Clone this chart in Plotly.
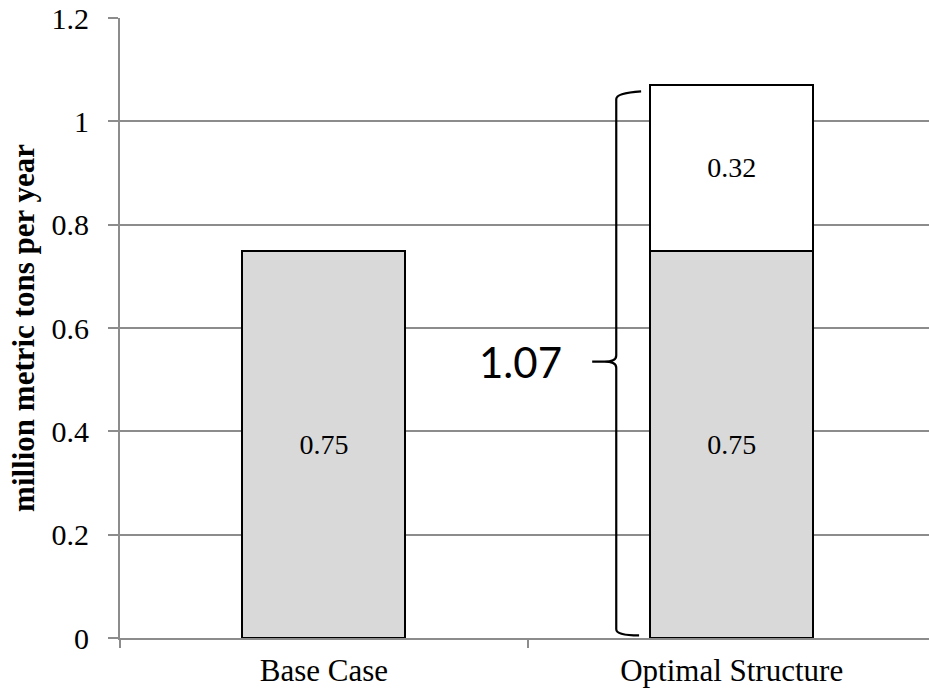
import plotly.graph_objects as go

# Annual output, million metric tons per year
categories = ["Base Case", "Optimal Structure"]
base_values = [0.75, 0.75]
added_values = [None, 0.32]
y_ticks = [0, 0.2, 0.4, 0.6, 0.8, 1.0, 1.2]

total_optimal = round(base_values[1] + added_values[1], 2)

SERIF = "Liberation Serif, Times New Roman, serif"
GRID = "#8c8c8c"

fig = go.Figure()
fig.add_trace(go.Bar(
    x=categories, y=base_values, width=0.4,
    marker=dict(color="#d9d9d9", line=dict(color="black", width=2)),
    text=[f"{v:.2f}" for v in base_values],
    textposition="inside", insidetextanchor="middle",
    textfont=dict(family=SERIF, size=28, color="black"),
    cliponaxis=False, showlegend=False,
))
fig.add_trace(go.Bar(
    x=categories, y=added_values, width=0.4,
    marker=dict(color="white", line=dict(color="black", width=2)),
    text=["" if v is None else f"{v:.2f}" for v in added_values],
    textposition="inside", insidetextanchor="middle",
    textfont=dict(family=SERIF, size=28, color="black"),
    showlegend=False,
))

# Curly brace spanning the full stacked bar of the optimal case
idx = 1
xv = idx - 0.283        # vertical stroke
xe = idx - 0.227        # hook ends
xt = idx - 0.342        # middle tip
y0 = 0.005
y1 = total_optimal - 0.015
ym = total_optimal / 2
c = 0.012
path = (
    f"M {xe},{y0} Q {xv},{y0} {xv},{y0 + c} "
    f"L {xv},{ym - c} Q {xv},{ym} {xt + 0.03},{ym} L {xt},{ym} "
    f"M {xt + 0.03},{ym} Q {xv},{ym} {xv},{ym + c} "
    f"L {xv},{y1 - c} Q {xv},{y1} {xe + 0.005},{y1 + 0.003}"
)
fig.add_shape(type="path", path=path, xref="x", yref="y",
              line=dict(color="black", width=2.2))
fig.add_annotation(
    x=xt - 0.07, y=ym, xref="x", yref="y", text=f"{total_optimal:.2f}",
    showarrow=False, xanchor="right", yanchor="middle",
    font=dict(family="Lato, Liberation Sans, sans-serif", size=42, color="black"),
)

fig.update_layout(
    width=929, height=693,
    margin=dict(l=120, r=0, t=18, b=55),
    barmode="stack", bargap=0.6,
    plot_bgcolor="white", paper_bgcolor="white",
    font=dict(family=SERIF, color="black"),
    xaxis=dict(
        type="category", range=[-0.5, 1.484],
        tickson="boundaries", ticks="outside", ticklen=8, tickwidth=2,
        tickcolor=GRID, showline=True, linecolor=GRID, linewidth=2,
        showgrid=False, tickfont=dict(family=SERIF, size=31),
        ticklabelstandoff=4,
    ),
    yaxis=dict(
        range=[0, 1.2], tickvals=y_ticks, ticks="outside", ticklen=10,
        tickwidth=2, tickcolor=GRID, showline=True, linecolor=GRID,
        linewidth=2, showgrid=True, gridcolor=GRID, gridwidth=2,
        zeroline=False, tickfont=dict(family=SERIF, size=30),
        ticklabelstandoff=13,
        title=dict(text="<b>million metric tons per year</b>",
                   font=dict(family=SERIF, size=31), standoff=8),
    ),
)

fig.write_html("out.html")
